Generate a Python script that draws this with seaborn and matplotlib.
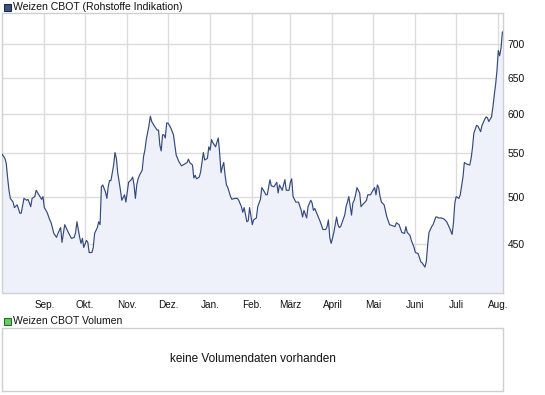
import matplotlib
matplotlib.use("Agg")
import matplotlib.pyplot as plt
from matplotlib.patches import Rectangle
from matplotlib.ticker import FixedLocator, FixedFormatter, NullLocator, NullFormatter
import seaborn as sns
import pandas as pd

# data (days since 2009-08-01, price)
start = pd.Timestamp("2009-08-01")
days = [0, 2, 3, 4, 5, 6, 8, 9, 11, 13, 14, 16, 18, 19, 21, 22, 24, 25, 27, 29,
        30, 31, 33, 35, 36, 38, 40, 41, 43, 44, 46, 47, 49, 51, 53, 54, 55, 57, 58, 59,
        60, 62, 63, 64, 66, 67, 68, 70, 71, 72, 73, 74, 76, 77, 78, 79, 80, 82, 83, 84,
        85, 87, 88, 90, 91, 93, 95, 96, 97, 98, 99, 100, 101, 103, 104, 105, 106, 108, 109, 110,
        112, 114, 115, 116, 117, 118, 119, 120, 121, 122, 124, 126, 127, 128, 130, 132, 134, 136, 137, 138,
        140, 141, 142, 143, 145, 146, 148, 149, 151, 152, 153, 154, 155, 157, 158, 159, 160, 161, 162, 163,
        164, 165, 166, 168, 169, 171, 173, 174, 176, 177, 178, 180, 181, 182, 184, 185, 187, 188, 190, 191,
        193, 194, 195, 197, 198, 200, 202, 203, 204, 206, 208, 209, 211, 212, 213, 214, 216, 218, 220, 221,
        222, 224, 225, 227, 228, 229, 230, 232, 234, 236, 238, 239, 240, 241, 242, 243, 244, 246, 247, 248,
        249, 250, 252, 253, 254, 255, 257, 258, 259, 260, 261, 263, 264, 265, 267, 268, 269, 271, 272, 274,
        275, 276, 277, 278, 279, 281, 283, 285, 287, 289, 290, 292, 294, 296, 297, 298, 300, 301, 303, 304,
        306, 308, 309, 311, 312, 313, 314, 316, 317, 319, 320, 321, 323, 325, 327, 329, 331, 332, 333, 334,
        336, 337, 339, 340, 342, 344, 345, 346, 347, 349, 350, 352, 353, 355, 356, 357, 358, 360, 361, 362,
        363, 364, 365, 366, 367, 368]
prices = [549, 544, 538, 521, 507, 498, 494, 488, 491, 482, 482, 498, 496, 497, 489, 498, 500, 507, 502, 497,
          500, 488, 483, 475, 472, 461, 457, 461, 467, 452, 470, 467, 461, 456, 457, 462, 473, 457, 451, 456,
          447, 454, 452, 442, 442, 447, 461, 467, 473, 470, 511, 513, 505, 498, 511, 518, 518, 536, 551, 544,
          527, 507, 496, 502, 494, 516, 519, 522, 513, 498, 513, 520, 524, 530, 546, 554, 567, 585, 597, 590,
          584, 579, 579, 560, 553, 573, 573, 569, 588, 588, 582, 573, 560, 548, 540, 535, 537, 539, 543, 539,
          536, 521, 524, 520, 522, 528, 551, 542, 544, 558, 554, 567, 563, 558, 564, 569, 550, 527, 534, 539,
          524, 513, 510, 500, 497, 498, 498, 496, 489, 483, 488, 473, 474, 488, 470, 475, 477, 489, 497, 510,
          505, 502, 502, 519, 512, 511, 516, 504, 513, 507, 519, 507, 507, 516, 520, 500, 494, 494, 485, 478,
          485, 477, 489, 496, 493, 485, 487, 480, 473, 465, 465, 468, 475, 457, 451, 456, 462, 478, 470, 467,
          468, 472, 480, 489, 494, 500, 480, 493, 496, 502, 510, 504, 489, 491, 494, 496, 502, 502, 505, 510,
          502, 513, 510, 500, 494, 491, 478, 470, 469, 468, 472, 470, 462, 461, 468, 462, 459, 454, 447, 442,
          441, 433, 432, 428, 433, 449, 462, 468, 470, 478, 478, 477, 477, 476, 473, 467, 460, 472, 493, 500,
          498, 502, 522, 539, 537, 536, 544, 557, 575, 585, 584, 577, 585, 593, 596, 595, 590, 596, 609, 625,
          640, 660, 690, 682, 694, 719]

month_starts = ["2009-09-01", "2009-10-01", "2009-11-01", "2009-12-01", "2010-01-01", "2010-02-01",
                "2010-03-01", "2010-04-01", "2010-05-01", "2010-06-01", "2010-07-01", "2010-08-01"]
month_labels = ["Sep.", "Okt.", "Nov.", "Dez.", "Jan.", "Feb.", "März", "April", "Mai", "Juni", "Juli", "Aug."]
y_ticks = [450, 500, 550, 600, 650, 700]

dates = start + pd.to_timedelta(days, unit="D")
df = pd.DataFrame({"date": dates, "price": prices})

LINE = "#34497d"
FILL = "#eef1f9"
GRID = "#dcdcdc"
FRAME = "#cfcfcf"

sns.set_theme(style="white")
plt.rcParams["font.family"] = ["Liberation Sans", "DejaVu Sans"]

W, H = 545, 395
fig = plt.figure(figsize=(W / 100, H / 100), dpi=100)
ax = fig.add_axes([2.3 / W, 1 - 293.3 / H, 501 / W, 280 / H])
ax2 = fig.add_axes([2.3 / W, 1 - 390.5 / H, 501 / W, 62.5 / H])

ymin, ymax = 404, 749
ax.set_yscale("log")
ax.fill_between(df["date"], df["price"], ymin, color=FILL, linewidth=0, zorder=1)
sns.lineplot(data=df, x="date", y="price", ax=ax, color=LINE, linewidth=0.85, legend=False, zorder=3)

ax.set_ylim(ymin, ymax)
ax.set_xlim(pd.Timestamp("2009-08-01 02:00"), pd.Timestamp("2010-08-04 16:00"))

ax.yaxis.set_major_locator(FixedLocator(y_ticks))
ax.yaxis.set_major_formatter(FixedFormatter([str(t) for t in y_ticks]))
ax.yaxis.set_minor_locator(NullLocator())
ax.yaxis.set_minor_formatter(NullFormatter())
ax.yaxis.tick_right()

ax.set_xticks(pd.to_datetime(month_starts))
ax.set_xticklabels(month_labels)
ax.xaxis.set_minor_locator(NullLocator())

ax.tick_params(axis="y", length=0, pad=3.2, labelsize=7.4, labelcolor="#111111")
ax.tick_params(axis="x", length=0, pad=4.5, labelsize=7.2, labelcolor="#111111")
ax.set_xlabel("")
ax.set_ylabel("")
ax.grid(True, color=GRID, linewidth=1)
ax.set_axisbelow(True)
for s in ax.spines.values():
    s.set_color(FRAME)
    s.set_linewidth(1)

# volume panel
ax2.set_xticks([])
ax2.set_yticks([])
for s in ax2.spines.values():
    s.set_color(FRAME)
    s.set_linewidth(1)
ax2.text(0.5, 0.5, "keine Volumendaten vorhanden", ha="center", va="center",
         fontsize=8.5, color="#111111", transform=ax2.transAxes)

# legend squares and labels
fig.add_artist(Rectangle((3.5 / W, 1 - 10.5 / H), 7 / W, 7 / H, transform=fig.transFigure,
                         facecolor="#3d5283", edgecolor="#1e2a45", linewidth=0.8))
fig.text(13 / W, 1 - 7 / H, "Weizen CBOT (Rohstoffe Indikation)", ha="left", va="center",
         fontsize=7.6, color="#111111")
fig.add_artist(Rectangle((3.5 / W, 1 - 324.5 / H), 7 / W, 7 / H, transform=fig.transFigure,
                         facecolor="#66cc66", edgecolor="#2a6a2a", linewidth=0.8))
fig.text(13 / W, 1 - 321 / H, "Weizen CBOT Volumen", ha="left", va="center",
         fontsize=7.5, color="#111111")

fig.savefig("out.png", dpi=100)
